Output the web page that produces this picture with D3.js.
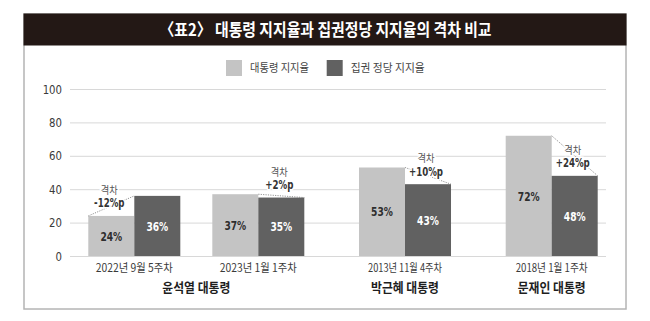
<!DOCTYPE html>
<html><head><meta charset="utf-8">
<script src="https://cdn.jsdelivr.net/npm/d3@7"></script>
<style>
html,body{margin:0;padding:0;background:#fff;}
svg{display:block;}
text{font-family:"Liberation Sans Narrow","DejaVu Sans Condensed","Noto Sans CJK KR",sans-serif;}
.kr{font-family:"Noto Sans CJK KR","Liberation Sans Narrow",sans-serif;}
</style></head>
<body><svg id="c" width="650" height="321"></svg>
<script>
const title = "〈표2〉 대통령 지지율과 집권정당 지지율의 격차 비교";
const surveys = ["2022년 9월 5주차", "2023년 1월 1주차", "2013년 11월 4주차", "2018년 1월 1주차"];
const presidents = ["윤석열 대통령", "윤석열 대통령", "박근혜 대통령", "문재인 대통령"];
const seriesNames = ["대통령 지지율", "집권 정당 지지율"];
const presidentApproval = [24, 37, 53, 72];
const partyApproval = [36, 35, 43, 48];
const gapLabels = ["-12%p", "+2%p", "+10%p", "+24%p"];
const yTicks = [0, 20, 40, 60, 80, 100];

const colors = ["#c4c4c4", "#616161"];
const svg = d3.select("#c");

function condense(sel, f) {
  sel.each(function() {
    const w = this.getComputedTextLength();
    d3.select(this).attr("textLength", w * f).attr("lengthAdjust", "spacingAndGlyphs");
  });
}

// frame + title bar
svg.append("rect").attr("x", 24).attr("y", 14).attr("width", 602).attr("height", 295)
  .attr("fill", "#fff").attr("stroke", "#b4b4b4").attr("stroke-width", 1.5);
svg.append("rect").attr("x", 23.5).attr("y", 13.5).attr("width", 603).attr("height", 32)
  .attr("fill", "#231815");
svg.append("text").attr("class", "kr").attr("x", 325.5).attr("y", 30).attr("dy", "0.36em")
  .attr("text-anchor", "middle").attr("fill", "#fff").attr("font-size", 17).attr("font-weight", 700)
  .attr("textLength", 332).attr("lengthAdjust", "spacingAndGlyphs").text(title);

// scales
const y = d3.scaleLinear().domain([0, 100]).range([256, 89]);
const units = [];
let u = 0;
surveys.forEach((s, i) => {
  if (i > 0) u += (presidents[i] !== presidents[i - 1]) ? 1.183 : 1;
  units.push(u);
});
const x = d3.scaleLinear().domain([0, units[units.length - 1]]).range([134.3, 551.7]);
const xs = d3.scaleBand().domain(seriesNames).range([-46, 46]).padding(0);

// gridlines + y labels
const yAxis = d3.axisLeft(y).tickValues(yTicks).tickSize(-(606 - 70)).tickPadding(8).tickFormat(d3.format("d"));
const gy = svg.append("g").attr("transform", "translate(70,0)").call(yAxis);
gy.select(".domain").remove();
gy.selectAll(".tick line").attr("stroke", "#d8d8d8").attr("stroke-width", 1);
gy.selectAll(".tick text").attr("fill", "#3a3a3a").attr("font-size", 12.5).attr("x", -8);
condense(gy.selectAll(".tick text"), 0.9);

// legend
const lg = svg.append("g");
const legendX = [226, 326.7];
const legendW = [59, 74];
seriesNames.forEach((n, i) => {
  lg.append("rect").attr("x", legendX[i]).attr("y", 60).attr("width", 16).attr("height", 16).attr("fill", colors[i]);
  lg.append("text").attr("class", "kr").attr("x", legendX[i] + 24).attr("y", 67.5).attr("dy", "0.36em")
    .attr("fill", "#444").attr("font-size", 11.5).attr("textLength", legendW[i]).attr("lengthAdjust", "spacingAndGlyphs").text(n);
});

// bars
const data = surveys.map((s, i) => ({i, s, vals: [presidentApproval[i], partyApproval[i]]}));
const groups = svg.append("g").selectAll("g").data(data).join("g")
  .attr("transform", d => `translate(${x(units[d.i])},0)`);
groups.selectAll("rect").data(d => d.vals.map((v, k) => ({v, k}))).join("rect")
  .attr("x", d => xs(seriesNames[d.k])).attr("width", xs.bandwidth())
  .attr("y", d => y(d.v)).attr("height", d => y(0) - y(d.v))
  .attr("fill", d => colors[d.k]);
const vt = groups.selectAll("text.val").data(d => d.vals.map((v, k) => ({v, k}))).join("text")
  .attr("class", "val")
  .attr("x", d => xs(seriesNames[d.k]) + xs.bandwidth() / 2)
  .attr("y", d => (y(d.v) + y(0)) / 2).attr("dy", "0.36em")
  .attr("text-anchor", "middle").attr("font-size", 13).attr("font-weight", 700)
  .attr("fill", d => d.k === 0 ? "#2e2e2e" : "#fff").text(d => d.v + "%");
condense(vt, 0.78);

// gap annotations
groups.each(function(d) {
  const g = d3.select(this);
  const gap = d.vals[0] - d.vals[1];
  const off = gap < 0 ? 0 : xs.bandwidth();
  g.append("line")
    .attr("x1", xs(seriesNames[0]) + off).attr("y1", y(d.vals[0]))
    .attr("x2", xs(seriesNames[1]) + off).attr("y2", y(d.vals[1]))
    .attr("stroke", "#777").attr("stroke-width", 0.8).attr("stroke-dasharray", "1.2,1.2");
  const lowK = d.vals[0] < d.vals[1] ? 0 : 1;
  const cx = xs(seriesNames[lowK]) + xs.bandwidth() / 2 - 2;
  const base = y(d.vals[lowK]) - 13;
  g.append("text").attr("class", "kr").attr("x", cx).attr("y", base - 12.5).attr("dy", "0.36em")
    .attr("text-anchor", "middle").attr("font-size", 10.5).attr("fill", "#555")
    .attr("stroke", "#fff").attr("stroke-width", 3).attr("paint-order", "stroke")
    .attr("textLength", 17).attr("lengthAdjust", "spacingAndGlyphs").text("격차");
  const t = g.append("text").attr("x", cx).attr("y", base).attr("dy", "0.36em")
    .attr("text-anchor", "middle").attr("font-size", 12).attr("font-weight", 700).attr("fill", "#333")
    .attr("stroke", "#fff").attr("stroke-width", 3).attr("paint-order", "stroke")
    .text(gapLabels[d.i]);
  condense(t, 0.8);
});

// x labels
const surveyW = [77, 77, 74, 72];
svg.append("g").selectAll("text").data(data).join("text").attr("class", "kr")
  .attr("x", d => x(units[d.i])).attr("y", 268).attr("dy", "0.36em")
  .attr("text-anchor", "middle").attr("font-size", 11.5).attr("fill", "#3a3a3a")
  .attr("textLength", d => surveyW[d.i]).attr("lengthAdjust", "spacingAndGlyphs").text(d => d.s);

// president labels
const presList = Array.from(new Set(presidents));
const presCenters = presList.map(p => {
  const idx = presidents.map((q, i) => q === p ? i : -1).filter(i => i >= 0);
  return {p, cx: d3.mean(idx, i => x(units[i]))};
});
svg.append("g").selectAll("text").data(presCenters).join("text").attr("class", "kr")
  .attr("x", d => d.cx).attr("y", 287).attr("dy", "0.36em")
  .attr("text-anchor", "middle").attr("font-size", 13).attr("font-weight", 700).attr("fill", "#1e1e1e")
  .attr("textLength", 68).attr("lengthAdjust", "spacingAndGlyphs").text(d => d.p);
</script></body></html>
